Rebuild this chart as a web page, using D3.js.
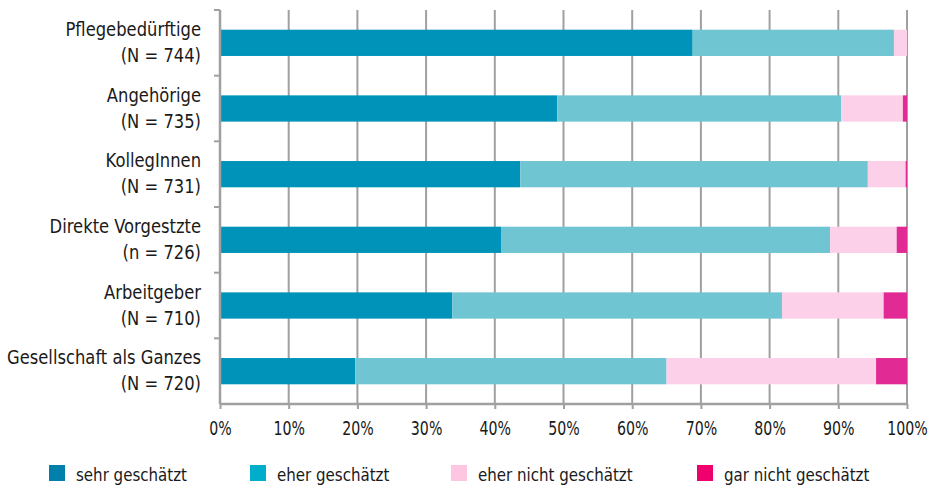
<!DOCTYPE html>
<html>
<head>
<meta charset="utf-8">
<script src="https://cdn.jsdelivr.net/npm/d3@7"></script>
<style>
  body { margin: 0; background: #fff; }
  text { font-family: "DejaVu Sans Condensed", "Liberation Sans Narrow", sans-serif; fill: #1a1a1a; }
</style>
</head>
<body>
<div id="chart-area"></div>
<script>
// Data (percent per answer category)
const categories = ['Pflegebedürftige', 'Angehörige', 'KollegInnen', 'Direkte Vorgestzte', 'Arbeitgeber', 'Gesellschaft als Ganzes'];
const sampleLabels = ['(N = 744)', '(N = 735)', '(N = 731)', '(n = 726)', '(N = 710)', '(N = 720)'];
const seriesNames = ['sehr geschätzt', 'eher geschätzt', 'eher nicht geschätzt', 'gar nicht geschätzt'];
const sehr = [68.8, 49.1, 43.7, 40.9, 33.8, 19.7];
const eher = [29.3, 41.3, 50.6, 47.9, 48.0, 45.3];
const eherNicht = [1.9, 9.0, 5.5, 9.7, 14.8, 30.5];
const garNicht = [0.0, 0.6, 0.2, 1.5, 3.4, 4.5];
const xTicks = [0, 10, 20, 30, 40, 50, 60, 70, 80, 90, 100];

const barColors = ['#0093ba', '#6fc5d2', '#fdd0ea', '#e12a93'];
const legendColors = ['#0080ab', '#00aecb', '#ffc6e1', '#f0006c'];

// Margin
const margin = { left: 220, right: 24, top: 10, bottom: 81 };
const width = 931 - margin.left - margin.right;
const height = 485 - margin.top - margin.bottom;

const svg = d3.select('#chart-area')
	.append('svg')
		.attr('width', 931)
		.attr('height', 485);

const g = svg.append('g')
	.attr('transform', 'translate(' + margin.left + ', ' + margin.top + ')');

// Scales
const x = d3.scaleLinear()
	.domain([0, 100])
	.range([0, width]);

const y = d3.scaleBand()
	.domain(categories)
	.range([0, height])
	.paddingInner(0.6)
	.paddingOuter(0.3);

const yStep = d3.scaleBand().domain(categories).range([0, height]);

// narrow a group of text nodes so one sample hits the target width (condensed look)
function condense(nodes, sampleNode, target) {
	const k = target / sampleNode.getComputedTextLength();
	nodes.each(function () {
		const w = this.getComputedTextLength();
		d3.select(this).attr('textLength', w * k).attr('lengthAdjust', 'spacingAndGlyphs');
	});
}

// Gridlines
g.append('g')
	.selectAll('line')
	.data(xTicks.slice(1))
	.enter().append('line')
		.attr('x1', d => x(d))
		.attr('x2', d => x(d))
		.attr('y1', 0)
		.attr('y2', height)
		.attr('stroke', '#a0a0a0')
		.attr('stroke-width', 2);

// Stack
const table = categories.map((c, i) => ({
	cat: c,
	[seriesNames[0]]: sehr[i],
	[seriesNames[1]]: eher[i],
	[seriesNames[2]]: eherNicht[i],
	[seriesNames[3]]: garNicht[i]
}));
const stacked = d3.stack().keys(seriesNames)(table);

g.append('g')
	.selectAll('g')
	.data(stacked)
	.enter().append('g')
		.attr('fill', (d, i) => barColors[i])
	.selectAll('rect')
	.data(d => d)
	.enter().append('rect')
		.attr('x', d => x(d[0]))
		.attr('width', d => Math.max(0, x(d[1]) - x(d[0])))
		.attr('y', d => y(d.data.cat))
		.attr('height', y.bandwidth());

// X axis
const xAxisGroup = g.append('g')
	.attr('transform', 'translate(0, ' + height + ')')
	.call(d3.axisBottom(x).tickValues(xTicks).tickSize(5).tickPadding(12).tickFormat(d => d + '%'));

xAxisGroup.select('.domain').attr('stroke', '#a0a0a0').attr('stroke-width', 2.5).attr('d', 'M0,0H' + width);
xAxisGroup.selectAll('.tick line').attr('stroke', '#a0a0a0').attr('stroke-width', 2);
const tickTexts = xAxisGroup.selectAll('.tick text')
	.attr('font-size', '20px')
	.attr('fill', '#1a1a1a')
	.style('font-family', '"DejaVu Sans Condensed", sans-serif');
condense(tickTexts, tickTexts.nodes()[tickTexts.size() - 1], 40.5);

// Y axis
const yAxisGroup = g.append('g');
yAxisGroup.append('line')
	.attr('x1', 0).attr('x2', 0)
	.attr('y1', 0).attr('y2', height)
	.attr('stroke', '#a0a0a0')
	.attr('stroke-width', 2.5);
yAxisGroup.selectAll('.ytick')
	.data(categories)
	.enter().append('line')
		.attr('x1', -6).attr('x2', 0)
		.attr('y1', d => yStep(d)).attr('y2', d => yStep(d))
		.attr('stroke', '#a0a0a0')
		.attr('stroke-width', 2);

// Category labels
const labels = yAxisGroup.selectAll('.ylabel')
	.data(categories)
	.enter().append('text')
		.attr('text-anchor', 'end')
		.attr('font-size', '20px')
		.attr('x', -19)
		.attr('y', d => y(d) + y.bandwidth() / 2);

const line1 = labels.append('tspan')
	.attr('x', -19)
	.attr('dy', '-0.35em')
	.text(d => d);
const line2 = labels.append('tspan')
	.attr('x', -19)
	.attr('dy', '1.3em')
	.text((d, i) => sampleLabels[i]);

const labelSample = line1.nodes()[5];
const labelK = 194 / labelSample.getComputedTextLength();
line1.each(function () { d3.select(this).attr('textLength', this.getComputedTextLength() * labelK).attr('lengthAdjust', 'spacingAndGlyphs'); });
line2.each(function () { d3.select(this).attr('textLength', this.getComputedTextLength() * labelK).attr('lengthAdjust', 'spacingAndGlyphs'); });

// Legend
const legendX = [49, 250, 451, 697];
const legend = svg.append('g')
	.selectAll('g')
	.data(seriesNames)
	.enter().append('g')
		.attr('transform', (d, i) => 'translate(' + legendX[i] + ', 465)');

legend.append('rect')
	.attr('width', 16)
	.attr('height', 16)
	.attr('fill', (d, i) => legendColors[i]);

const legendTexts = legend.append('text')
	.attr('x', 27)
	.attr('y', 15.5)
	.attr('font-size', '18px')
	.text(d => d);
condense(legendTexts, legendTexts.nodes()[0], 111);
</script>
</body>
</html>
